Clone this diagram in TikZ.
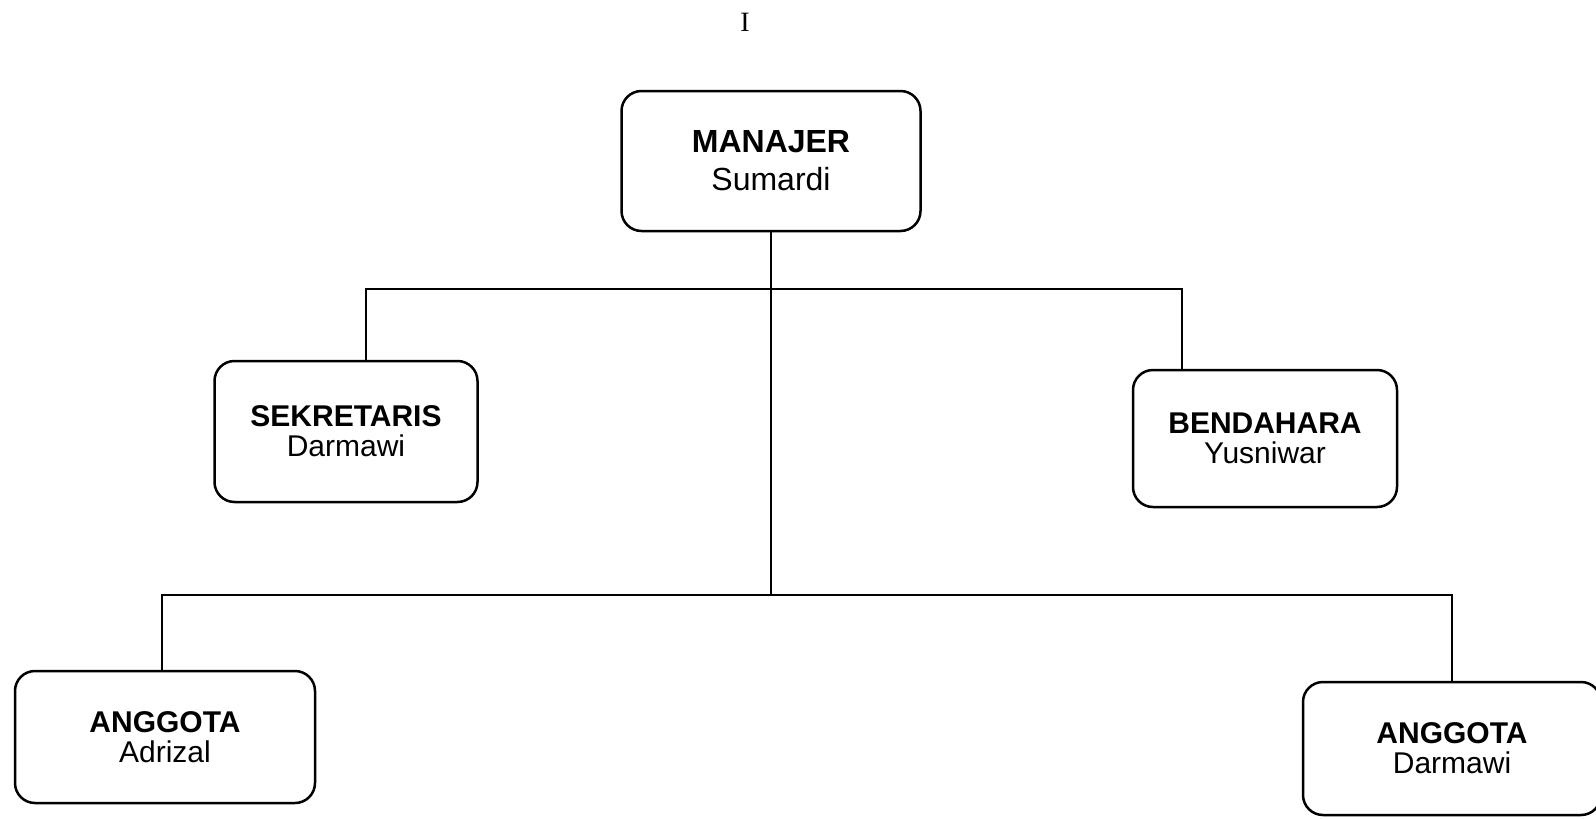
\documentclass[tikz,border=0pt]{standalone}
\usepackage{fontspec}
\setmainfont{Liberation Sans}
\newfontfamily\serifI{Liberation Serif}
\begin{document}
\begin{tikzpicture}[x=0.5pt,y=-0.5pt,
  box/.style={draw, line width=1.25pt, rounded corners=10pt, align=center, inner sep=0pt,
    font=\fontsize{15pt}{15pt}\selectfont},
  conn/.style={line width=1.2pt}]
\useasboundingbox (0,0) rectangle (1596,819);
\fill[white] (0,0) rectangle (1596,819);
\node[font=\serifI\fontsize{14pt}{16pt}\selectfont] (title) at (745,22) {I};
\node[box, minimum width=149.5pt, minimum height=70pt, font=\fontsize{16pt}{19pt}\selectfont] (man) at (771,161) {\textbf{MANAJER}\\Sumardi};
\node[box, minimum width=131.5pt, minimum height=70.5pt] (sek) at (346,431.5) {\textbf{SEKRETARIS}\\Darmawi};
\node[box, minimum width=132pt, minimum height=68.5pt] (ben) at (1265,438.5) {\textbf{BENDAHARA}\\Yusniwar};
\node[box, minimum width=150pt, minimum height=66pt] (ag1) at (165,737) {\textbf{ANGGOTA}\\Adrizal};
\node[box, minimum width=149pt, minimum height=66.5pt] (ag2) at (1452,748.5) {\textbf{ANGGOTA}\\Darmawi};
\coordinate (j1) at (771,289);
\coordinate (j2) at (771,595);
\coordinate (ts) at (366,289);
\coordinate (tb) at (1182,289);
\coordinate (la) at (162,595);
\coordinate (lb) at (1452,595);
\draw[conn] (man.south) -- (j2);
\draw[conn] (ts |- sek.north) -- (ts) -- (tb) -- (tb |- ben.north);
\draw[conn] (la |- ag1.north) -- (la) -- (lb) -- (lb |- ag2.north);
\end{tikzpicture}
\end{document}
